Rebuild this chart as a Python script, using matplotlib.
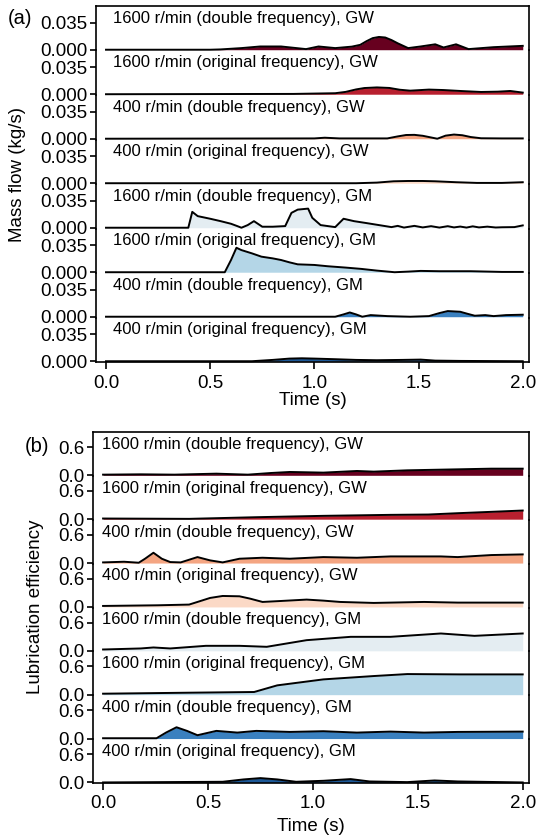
import matplotlib
matplotlib.use('Agg')
import matplotlib.pyplot as plt

plt.rcParams['font.family'] = ['Liberation Sans', 'DejaVu Sans']

labels = ['1600 r/min (double frequency), GW', '1600 r/min (original frequency), GW',
          '400 r/min (double frequency), GW', '400 r/min (original frequency), GW',
          '1600 r/min (double frequency), GM', '1600 r/min (original frequency), GM',
          '400 r/min (double frequency), GM', '400 r/min (original frequency), GM']
colors = ['#67001f', '#b8202f', '#f4a582', '#fbd9c6', '#e4edf2', '#b4d6e7', '#3a80bf', '#1c5897']

# (a) mass flow, kg/s
ta1 = [0, 0.5, 0.55, 0.65, 0.74, 0.84, 0.96, 1.02, 1.10, 1.18, 1.22, 1.25, 1.28, 1.31, 1.34, 1.37, 1.40, 1.45,
       1.51, 1.58, 1.62, 1.68, 1.74, 1.86, 2.0]
qa1 = [0, 0, 0.0004, 0.0021, 0.0042, 0.0042, 0.0008, 0.0042, 0.0021, 0.0040, 0.0063, 0.0110, 0.0150, 0.0165,
       0.0158, 0.0125, 0.0083, 0.0021, 0.0042, 0.0070, 0.0029, 0.0070, 0.0008, 0.0033, 0.0050]
ta2 = [0, 0.9, 1.10, 1.15, 1.20, 1.24, 1.30, 1.36, 1.41, 1.46, 1.55, 1.62, 1.70, 1.80, 1.88, 1.94, 2.0]
qa2 = [0, 0.0004, 0.0013, 0.0030, 0.0062, 0.0080, 0.0088, 0.0081, 0.0058, 0.0046, 0.0060, 0.0054, 0.0042, 0.0029, 0.0033, 0.0042, 0.0021]
ta3 = [0, 1.0, 1.05, 1.12, 1.35, 1.40, 1.44, 1.48, 1.52, 1.59, 1.63, 1.67, 1.71, 1.75, 1.80, 1.9, 2.0]
qa3 = [0, 0.0004, 0.0013, 0.0004, 0.0004, 0.0030, 0.0048, 0.0050, 0.0038, 0, 0.0040, 0.0054, 0.0045, 0.0022, 0.0006, 0.0004, 0.0004]
ta4 = [0, 1.2, 1.30, 1.38, 1.45, 1.52, 1.58, 1.68, 1.78, 1.9, 2.0]
qa4 = [0, 0, 0.0008, 0.0025, 0.0029, 0.0029, 0.0025, 0.0013, 0.0004, 0.0004, 0.0013]
ta5 = [0, 0.395, 0.414, 0.44, 0.50, 0.55, 0.60, 0.63, 0.65, 0.68, 0.71, 0.75, 0.80, 0.86, 0.89, 0.92, 0.97, 0.99,
       1.03, 1.10, 1.14, 1.19, 1.25, 1.31, 1.37, 1.40, 1.43, 1.48, 1.52, 1.56, 1.60, 1.64, 1.67, 1.70, 1.73, 1.76,
       1.79, 1.83, 1.87, 1.90, 1.96, 2.0]
qa5 = [0, 0, 0.0205, 0.0150, 0.0116, 0.0085, 0.0051, 0.0021, 0, 0.0034, 0.0085, 0.0013, 0.0013, 0.0021, 0.0192,
       0.0234, 0.0247, 0.0128, 0.0034, 0.0008, 0.0116, 0.0085, 0.0060, 0.0034, 0.0008, 0.0024, 0.0002, 0.0024, 0.0004,
       0.0020, 0.0002, 0.0020, 0.0004, 0.0015, 0.0002, 0.0018, 0.0004, 0.0014, 0.0003, 0.0006, 0.0008, 0.0030]
ta6 = [0, 0.57, 0.60, 0.626, 0.65, 0.70, 0.746, 0.80, 0.84, 0.88, 0.92, 1.0, 1.065, 1.15, 1.225, 1.30, 1.385, 1.45, 1.51, 1.6, 1.75, 1.9, 2.0]
qa6 = [0, 0, 0.0158, 0.0316, 0.0286, 0.0244, 0.0201, 0.0179, 0.0158, 0.0128, 0.0102, 0.0094, 0.0077, 0.0060, 0.0043, 0.0021, 0, 0.0008, 0.0017, 0.0013, 0.0013, 0.0004, 0.0004]
ta7 = [0, 1.10, 1.14, 1.17, 1.20, 1.23, 1.27, 1.35, 1.46, 1.55, 1.60, 1.64, 1.70, 1.74, 1.77, 1.82, 1.86, 1.92, 2.0]
qa7 = [0, 0, 0.0030, 0.0055, 0.0030, 0, 0.0021, 0.0008, 0, 0.0008, 0.0047, 0.0073, 0.0064, 0.0034, 0.0013, 0.0021, 0.0008, 0.0021, 0.0026]
ta8 = [0, 0.70, 0.80, 0.88, 0.94, 1.00, 1.10, 1.20, 1.30, 1.42, 1.51, 1.58, 1.7, 2.0]
qa8 = [0, 0, 0.0017, 0.0034, 0.0038, 0.0034, 0.0026, 0.0017, 0.0013, 0.0017, 0.0021, 0.0008, 0.0004, 0]

# (b) lubrication efficiency
tb1 = [0, 0.18, 0.34, 0.54, 0.69, 0.80, 0.89, 1.05, 1.21, 1.29, 1.45, 1.69, 1.85, 2.0]
eb1 = [0.014, 0.021, 0.014, 0.035, 0.014, 0.049, 0.071, 0.057, 0.092, 0.078, 0.106, 0.127, 0.141, 0.141]
tb2 = [0, 0.41, 0.73, 1.05, 1.37, 1.55, 1.69, 1.85, 2.0]
eb2 = [0.014, 0.007, 0.042, 0.071, 0.092, 0.099, 0.127, 0.156, 0.184]
tb3 = [0, 0.10, 0.17, 0.20, 0.24, 0.28, 0.32, 0.37, 0.45, 0.51, 0.57, 0.65, 0.76, 0.89, 1.05, 1.21, 1.37, 1.61, 1.69, 1.85, 2.0]
eb3 = [0.014, 0.028, 0.007, 0.092, 0.219, 0.092, 0.021, 0.014, 0.127, 0.057, 0.014, 0.092, 0.113, 0.092, 0.127, 0.113, 0.141, 0.141, 0.127, 0.170, 0.184]
tb4 = [0, 0.26, 0.41, 0.45, 0.51, 0.57, 0.65, 0.70, 0.76, 0.85, 0.97, 1.05, 1.13, 1.29, 1.53, 1.69, 2.0]
eb4 = [0.021, 0.035, 0.050, 0.106, 0.191, 0.233, 0.226, 0.177, 0.106, 0.127, 0.156, 0.134, 0.106, 0.085, 0.106, 0.092, 0.092]
tb5 = [0, 0.18, 0.24, 0.32, 0.49, 0.65, 0.78, 0.97, 1.18, 1.37, 1.61, 1.77, 2.0]
eb5 = [0.028, 0.050, 0.071, 0.050, 0.106, 0.106, 0.085, 0.226, 0.297, 0.297, 0.368, 0.318, 0.368]
tb6 = [0, 0.41, 0.72, 0.83, 1.05, 1.29, 1.45, 1.70, 2.0]
eb6 = [0.021, 0.042, 0.057, 0.198, 0.325, 0.396, 0.438, 0.431, 0.431]
tb7 = [0, 0.255, 0.30, 0.35, 0.40, 0.45, 0.54, 0.64, 0.73, 0.89, 1.05, 1.21, 1.37, 1.53, 1.69, 2.0]
eb7 = [0.007, 0.007, 0.127, 0.240, 0.163, 0.071, 0.163, 0.127, 0.163, 0.141, 0.156, 0.127, 0.148, 0.127, 0.141, 0.148]
tb8 = [0, 0.57, 0.67, 0.75, 0.83, 0.92, 1.05, 1.18, 1.27, 1.45, 1.58, 1.69, 2.0]
eb8 = [0, 0.014, 0.064, 0.092, 0.064, 0.014, 0.035, 0.071, 0.021, 0.007, 0.042, 0.021, 0]

xticks = [0.0, 0.5, 1.0, 1.5, 2.0]

W, H = 537, 840
fig = plt.figure(figsize=(W / 100, H / 100), dpi=100)


def ridge(series, box, ylim, ytick, yfmt, text_x, ylabel, ylabel_xy, letter, letter_xy, xpad):
    left, right, top, bottom = box
    gs = fig.add_gridspec(8, 1, left=left / W, right=right / W, top=1 - top / H,
                          bottom=1 - bottom / H, hspace=0)
    for i, (t, v) in enumerate(series):
        ax = fig.add_subplot(gs[i])
        ax.patch.set_visible(False)
        ax.fill_between(t, 0, v, color=colors[i], lw=0, zorder=2)
        ax.plot(t, v, color='black', lw=1.4, zorder=3, clip_on=False)
        ax.set_xlim(-0.048, 2.03)
        ax.set_ylim(*ylim)
        ax.set_yticks([0, ytick])
        ax.set_yticklabels([yfmt % 0, yfmt % ytick])
        ax.text(text_x, 0.72, labels[i], transform=ax.transAxes, fontsize=12, va='center', ha='left')
        for s in ['left', 'right', 'top', 'bottom']:
            ax.spines[s].set_linewidth(1.2)
        ax.spines['top'].set_visible(i == 0)
        ax.spines['bottom'].set_visible(i == 7)
        ax.tick_params(axis='y', labelsize=13.5, length=4, width=1.2, pad=2)
        if i == 7:
            ax.set_xticks(xticks)
            ax.set_xticklabels(['%.1f' % x for x in xticks])
            ax.tick_params(axis='x', labelsize=13.5, length=5, width=1.2, pad=4)
            ax.set_xlabel('Time (s)', fontsize=13.5, labelpad=xpad)
        else:
            ax.set_xticks([])
    fig.text(ylabel_xy[0] / W, 1 - ylabel_xy[1] / H, ylabel, rotation=90, fontsize=13.5,
             ha='center', va='center')
    fig.text(letter_xy[0] / W, 1 - letter_xy[1] / H, letter, fontsize=14.5, ha='center', va='center')


series_a = [(ta1, qa1), (ta2, qa2), (ta3, qa3), (ta4, qa4), (ta5, qa5), (ta6, qa6), (ta7, qa7), (ta8, qa8)]
series_b = [(tb1, eb1), (tb2, eb2), (tb3, eb3), (tb4, eb4), (tb5, eb5), (tb6, eb6), (tb7, eb7), (tb8, eb8)]

ridge(series_a, (96, 529, 6, 362), (-0.001, 0.0565), 0.035, '%.3f', 0.039,
      'Mass flow (kg/s)', (18, 175), '(a)', (20, 18), 0)
ridge(series_b, (93, 529, 432, 783), (-0.012, 0.92), 0.6, '%.1f', 0.02,
      'Lubrication efficiency', (36, 607), '(b)', (37, 447), 4)

fig.savefig('out.png', dpi=100)
